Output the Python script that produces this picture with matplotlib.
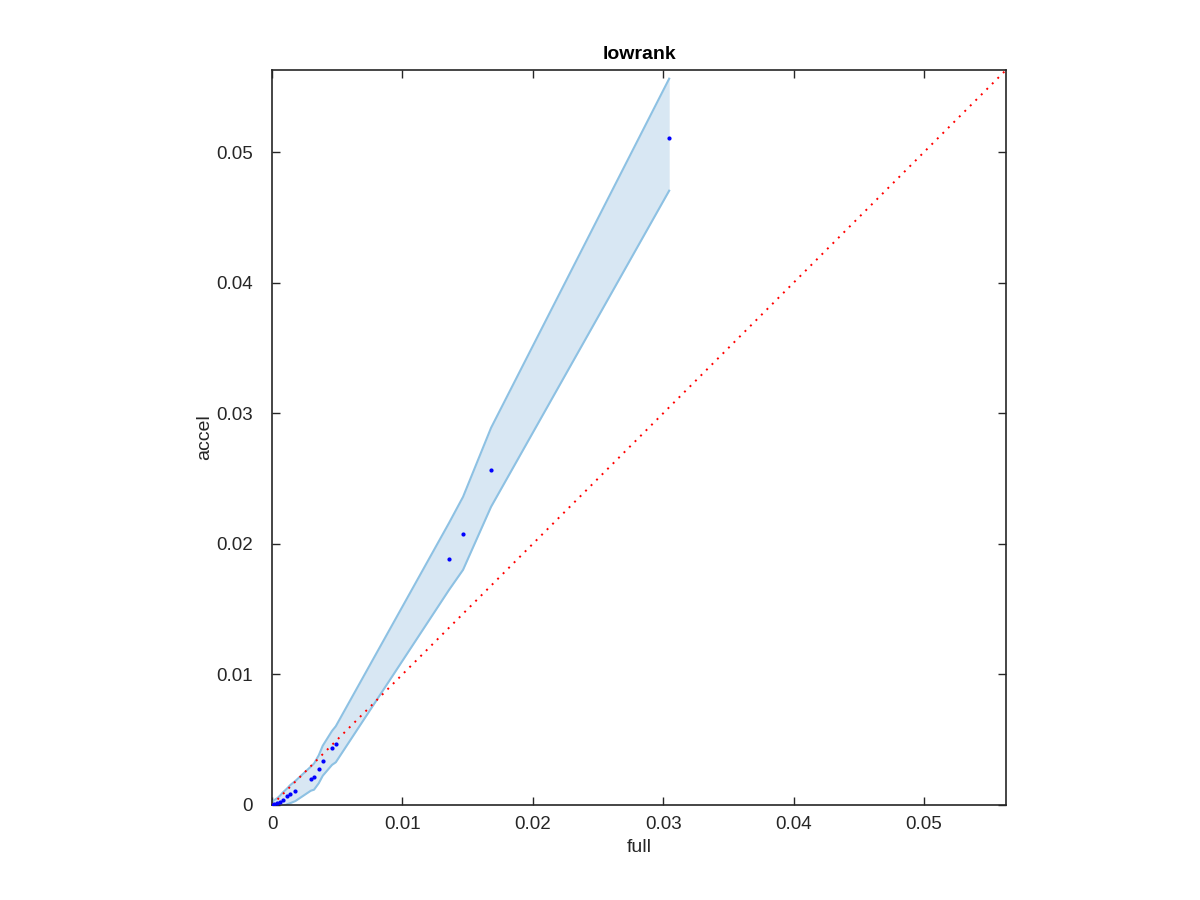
import numpy as np
import matplotlib
matplotlib.use('Agg')
import matplotlib.pyplot as plt

# scatter points (full vs accel)
full = [0.0, 0.00015, 0.00041, 0.00061, 0.00082, 0.00117, 0.00138, 0.00179,
        0.00297, 0.00322, 0.00358, 0.00389, 0.00460, 0.00489,
        0.01358, 0.01465, 0.01680, 0.03046]
accel = [0.0, 0.00005, 0.00015, 0.00025, 0.00041, 0.00067, 0.00082, 0.00107,
         0.00201, 0.00217, 0.00273, 0.00339, 0.00437, 0.00465,
         0.01885, 0.02077, 0.02567, 0.05111]

# confidence band
band_hi = [0.00023, 0.00036, 0.00053, 0.00071, 0.00095, 0.00128, 0.00151, 0.00184,
           0.00293, 0.00317, 0.00380, 0.00454, 0.00567, 0.00603,
           0.02161, 0.02360, 0.02889, 0.05563]
band_lo = [-0.00023, -0.00026, -0.00023, -0.00021, -0.00013, 0.00006, 0.00013, 0.00030,
           0.00109, 0.00117, 0.00166, 0.00224, 0.00307, 0.00327,
           0.01648, 0.01801, 0.02284, 0.04705]

lim = 0.0563
ticks = [0, 0.01, 0.02, 0.03, 0.04, 0.05]
tick_labels = ['0', '0.01', '0.02', '0.03', '0.04', '0.05']

plt.rcParams['font.family'] = ['Liberation Sans', 'DejaVu Sans']
dark = '#262626'

fig = plt.figure(figsize=(12, 9), dpi=100)
ax = fig.add_axes([0.2267, 0.1056, 0.6117, 0.8167])

ax.fill_between(full, band_lo, band_hi, color='#d8e7f3', linewidth=0, zorder=1)
ax.plot(full, band_hi, color='#8dc1e3', linewidth=1.5, zorder=2)
ax.plot(full, band_lo, color='#8dc1e3', linewidth=1.5, zorder=2)
ax.plot([0, lim], [0, lim], color='red', linestyle=(0, (1, 3)), linewidth=1.4, zorder=3)
ax.plot(full, accel, '.', color='blue', markersize=4, zorder=4)

ax.set_xlim(0, lim)
ax.set_ylim(0, lim)
ax.set_xticks(ticks)
ax.set_xticklabels(tick_labels)
ax.set_yticks(ticks)
ax.set_yticklabels(tick_labels)

ax.tick_params(direction='in', length=6, width=1, colors=dark, labelsize=13.5,
               top=True, right=True)
ax.tick_params(axis='y', pad=14)
ax.tick_params(axis='x', pad=8)
for s in ax.spines.values():
    s.set_color(dark)
    s.set_linewidth(1.2)

ax.set_xlabel('full', fontsize=14, color=dark, labelpad=4)
ax.set_ylabel('accel', fontsize=14, color=dark, labelpad=2)
ax.set_title('lowrank', fontsize=14, fontweight='bold', pad=8)

fig.savefig('out.png', dpi=100)
